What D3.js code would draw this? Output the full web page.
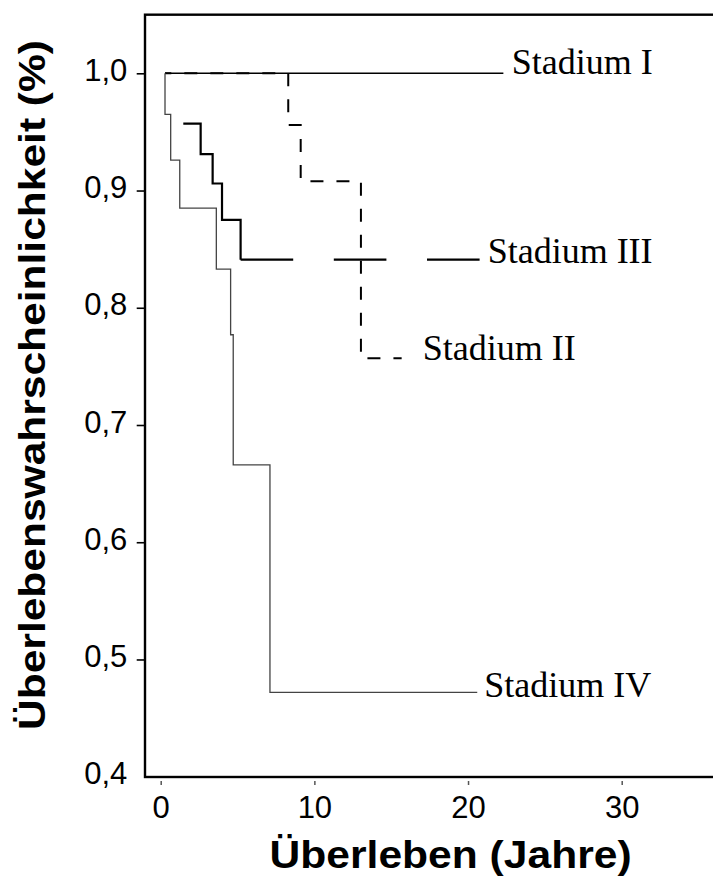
<!DOCTYPE html>
<html>
<head>
<meta charset="utf-8">
<script src="https://cdn.jsdelivr.net/npm/d3@7"></script>
<style>
  body { margin: 0; background: #fff; }
  svg { display: block; }
</style>
</head>
<body>
<svg id="chart" width="713" height="887"></svg>
<script>
  // tick values of both axes
  var yearTicks = [0, 10, 20, 30];
  var survTicks = [0.4, 0.5, 0.6, 0.7, 0.8, 0.9, 1.0];

  // stage names, same order as the curves below
  var stages = ["Stadium I", "Stadium II", "Stadium III", "Stadium IV"];

  // survival curves: time (years) and survival probability
  var timeI = [0.28, 22.3];
  var survI = [1.0, 1.0];
  var timeII = [0.28, 8.30, 9.11, 13.03, 15.68];
  var survII = [1.0, 0.956, 0.908, 0.757, 0.757];
  var timeIII = [1.47, 2.60, 3.38, 3.99, 5.20, 20.8];
  var survIII = [0.957, 0.931, 0.906, 0.875, 0.841, 0.841];
  var timeIV = [0.28, 0.28, 0.65, 1.24, 3.62, 4.55, 4.72, 7.11, 20.6];
  var survIV = [1.0, 0.965, 0.926, 0.885, 0.833, 0.777, 0.666, 0.472, 0.472];

  var svg = d3.select("#chart");

  // scales
  var x = d3.scaleLinear().domain([0, 30]).range([160.7, 621.7]);
  var y = d3.scaleLinear().domain([0.4, 1.0]).range([776.7, 73.3]);

  var frameLeft = 145;
  var frameTop = y(1.05);
  var frameBottom = 777;

  var de = d3.formatLocale({ decimal: ",", thousands: ".", grouping: [3], currency: ["", " €"] });
  var fmt = de.format(".1f");

  // frame (right side runs off the picture)
  svg.append("rect")
    .attr("x", frameLeft)
    .attr("y", frameTop)
    .attr("width", 700)
    .attr("height", frameBottom - frameTop)
    .attr("fill", "none")
    .attr("stroke", "#000")
    .attr("stroke-width", 2.4);

  ////////////////////////////
  // y axis

  var yAxis = svg.append("g")
    .attr("transform", "translate(144,0)")
    .call(d3.axisLeft(y).tickValues(survTicks).tickFormat(fmt).tickSize(7.3).tickPadding(9.4));

  yAxis.select(".domain").remove();
  yAxis.selectAll(".tick line").attr("stroke", "#000").attr("stroke-width", 1.6)
    .filter(function(d) { return d === 0.4; }).remove();
  yAxis.selectAll(".tick text")
    .attr("dy", "0.23em")
    .attr("fill", "#000")
    .style("font-family", "'Liberation Sans', Arial, sans-serif")
    .style("font-size", "31px");

  ////////////////////////////
  // x axis

  var xAxis = svg.append("g")
    .attr("transform", "translate(0,781)")
    .call(d3.axisBottom(x).tickValues(yearTicks).tickFormat(d3.format("d")).tickSize(4).tickPadding(11));

  xAxis.select(".domain").remove();
  xAxis.selectAll(".tick line").attr("stroke", "#555").attr("stroke-width", 1.5);
  xAxis.selectAll(".tick text")
    .attr("fill", "#000")
    .style("font-family", "'Liberation Sans', Arial, sans-serif")
    .style("font-size", "31px");

  ////////////////////////////
  // curves

  var line = d3.line()
    .x(function(d) { return x(d[0]); })
    .y(function(d) { return y(d[1]); })
    .curve(d3.curveStepAfter);

  function pairs(t, s) { return t.map(function(v, i) { return [v, s[i]]; }); }

  var curves = [
    { pts: pairs(timeI, survI), stroke: "#000", width: 1.6, dash: null },
    { pts: pairs(timeII, survII), stroke: "#000", width: 2, dash: "13,13" },
    { pts: pairs(timeIII, survIII), stroke: "#000", width: 2.2, dash: null },
    { pts: pairs(timeIV, survIV), stroke: "#444", width: 1.3, dash: null }
  ];

  // stadium III: steps solid, the long tail with long dashes
  var stepsIII = curves[2].pts.slice(0, curves[2].pts.length - 1);
  var tailIII = curves[2].pts.slice(curves[2].pts.length - 2);

  var gCurves = svg.append("g").attr("fill", "none");

  gCurves.selectAll("path.km")
    .data([curves[0], curves[1], curves[3]])
    .enter().append("path")
      .attr("class", "km")
      .attr("d", function(d) { return line(d.pts); })
      .attr("stroke", function(d) { return d.stroke; })
      .attr("stroke-width", function(d) { return d.width; })
      .attr("stroke-dasharray", function(d) { return d.dash; })
      .attr("stroke-dashoffset", function(d) { return d.dash ? 6.7 : null; });

  gCurves.append("path")
    .attr("d", line(stepsIII))
    .attr("stroke", "#000")
    .attr("stroke-width", 2.2);

  gCurves.append("path")
    .attr("d", line(tailIII))
    .attr("stroke", "#000")
    .attr("stroke-width", 2.2)
    .attr("stroke-dasharray", "52.6,40.6");

  ////////////////////////////
  // curve labels, placed after the end of each curve

  var labelOffsets = [[8.4, 1], [21, 2], [7.3, 3.3], [7, 5]];

  svg.append("g").selectAll("text")
    .data(curves)
    .enter().append("text")
      .attr("x", function(d, i) { return x(d.pts[d.pts.length - 1][0]) + labelOffsets[i][0]; })
      .attr("y", function(d, i) { return y(d.pts[d.pts.length - 1][1]) + labelOffsets[i][1]; })
      .style("font-family", "'Liberation Serif', 'Times New Roman', serif")
      .style("font-size", "36px")
      .text(function(d, i) { return stages[i]; });

  ////////////////////////////
  // axis titles

  svg.append("text")
    .attr("transform", "translate(45,385) rotate(-90)")
    .attr("text-anchor", "middle")
    .attr("textLength", 690)
    .attr("lengthAdjust", "spacingAndGlyphs")
    .style("font-family", "'Liberation Sans', Arial, sans-serif")
    .style("font-weight", "bold")
    .style("font-size", "37px")
    .text("Überlebenswahrscheinlichkeit (%)");

  svg.append("text")
    .attr("x", 450.6)
    .attr("y", 868)
    .attr("text-anchor", "middle")
    .attr("textLength", 362)
    .attr("lengthAdjust", "spacingAndGlyphs")
    .style("font-family", "'Liberation Sans', Arial, sans-serif")
    .style("font-weight", "bold")
    .style("font-size", "38px")
    .text("Überleben (Jahre)");
</script>
</body>
</html>
